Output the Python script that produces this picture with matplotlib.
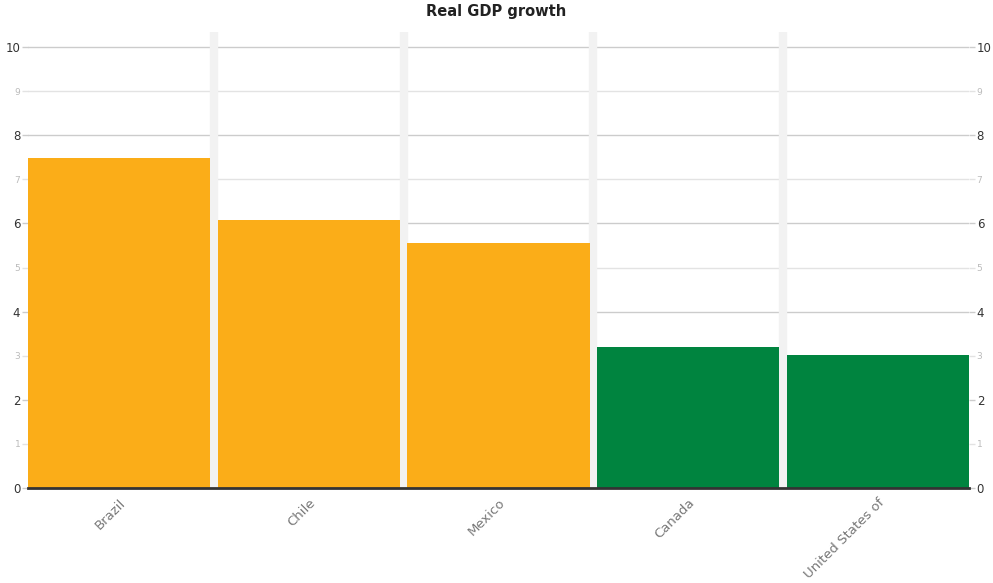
import numpy as np
import matplotlib
matplotlib.use("Agg")
import matplotlib.pyplot as plt
from matplotlib.ticker import MultipleLocator

countries = ["Brazil", "Chile", "Mexico", "Canada", "United States of"]
growth = [7.48, 6.08, 5.56, 3.20, 3.02]
bar_colors = ["#fbad18", "#fbad18", "#fbad18", "#00843f", "#00843f"]

fig = plt.figure(figsize=(9.93, 5.83), dpi=100)
ax = fig.add_axes([28 / 993, 0.163, 941 / 993, 0.782])

x = np.arange(len(countries))
ax.set_xlim(-0.481, len(countries) - 0.519)
ax.set_ylim(0, 10.34)

# horizontal grid, darker at the labelled (even) values
for v in range(1, 11):
    ax.axhline(v, color="#cccccc" if v % 2 == 0 else "#e3e3e3", lw=1, zorder=0)

# light separators between categories
for b in x[:-1] + 0.5:
    ax.axvline(b, color="#f2f2f2", lw=6, zorder=0)

ax.bar(x, growth, width=0.962, color=bar_colors, zorder=2)

for s in ["top", "left", "right"]:
    ax.spines[s].set_visible(False)
ax.spines["bottom"].set_color("#333333")
ax.spines["bottom"].set_linewidth(2)
ax.spines["bottom"].set_zorder(3)

ax.yaxis.set_major_locator(MultipleLocator(2))
ax.yaxis.set_minor_locator(MultipleLocator(1))
ax.tick_params(axis="y", which="major", labelsize=8.5, labelcolor="#333333",
               color="#cccccc", length=4.5, width=1, pad=1,
               left=True, right=True, labelleft=True, labelright=True)
ax.tick_params(axis="y", which="minor", labelsize=6.5, labelcolor="#bbbbbb",
               color="#e3e3e3", length=4.5, width=1, pad=1,
               left=True, right=True, labelleft=True, labelright=True)
ax.yaxis.set_minor_formatter(plt.FuncFormatter(lambda v, p: "" if v % 2 == 0 else f"{v:.0f}"))

ax.set_xticks(x)
ax.set_xticklabels(countries, rotation=45, ha="right", rotation_mode="anchor",
                   color="#777777", fontsize=9.5)
ax.tick_params(axis="x", length=0, pad=6)

fig.text(0.5, 0.98, "Real GDP growth", ha="center", va="center",
         fontsize=10.5, fontweight="bold", color="#222222")

fig.savefig("out.png", dpi=100)
